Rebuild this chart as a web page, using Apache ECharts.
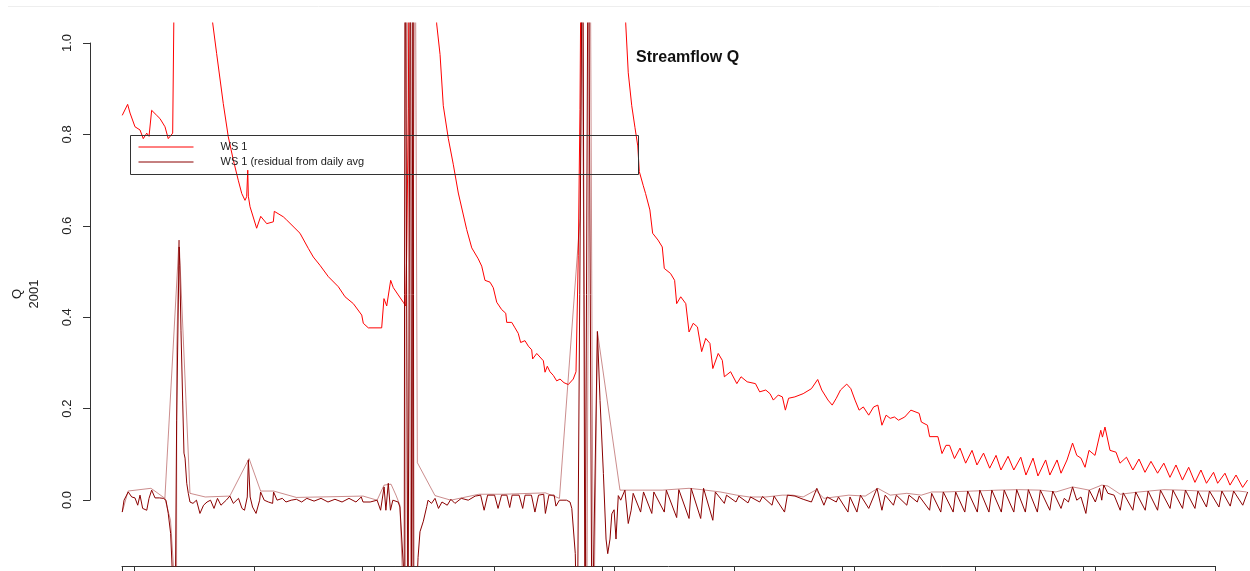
<!DOCTYPE html>
<html>
<head>
<meta charset="utf-8">
<script src="https://cdn.jsdelivr.net/npm/echarts@6/dist/echarts.min.js"></script>
<style>
html,body{margin:0;padding:0;background:#fff;}
#chart{width:1250px;height:571px;}
</style>
</head>
<body>
<div id="chart"></div>
<script>
// x values are days since the first plotted sample; y values are Q
const chartTitle = 'Streamflow Q';
const yAxisName = 'Q\n2001';
const seriesNames = ['WS 1', 'WS 1 (residual from daily avg'];
const yTicks = [0, 0.2, 0.4, 0.6, 0.8, 1.0];
const xTickDays = [0, 1, 11, 20, 21, 31, 40, 41, 51, 60, 61, 71, 80, 81, 91];

// WS 1 streamflow
const ws1 = [
[0.02,0.842],[0.47,0.866],[0.67,0.847],[1.08,0.817],[1.50,0.810],[1.77,0.791],[2.06,0.803],[2.25,0.796],
[2.47,0.853],[2.89,0.842],[3.16,0.835],[3.58,0.817],[3.85,0.791],[4.22,0.803],[4.35,0.803],[4.43,1.35],
[5.25,1.8],[6.49,1.5],[7.16,1.2],[7.55,1.044],[7.88,0.977],[8.43,0.868],[8.85,0.795],[9.27,0.744],
[9.68,0.700],[9.97,0.671],[10.24,0.656],[10.38,0.664],[10.47,0.722],[10.52,0.665],[10.66,0.642],
[11.21,0.595],[11.55,0.621],[12.05,0.605],[12.60,0.609],[12.68,0.632],[13.43,0.620],[13.71,0.613],
[14.40,0.595],[14.82,0.584],[15.51,0.551],[15.93,0.532],[16.48,0.514],[17.18,0.489],[18.01,0.467],
[18.57,0.445],[19.26,0.430],[19.96,0.405],[20.09,0.387],[20.51,0.377],[21.62,0.377],[21.81,0.441],
[22.04,0.425],[22.37,0.481],[22.59,0.465],[23.00,0.449],[23.42,0.433],[23.62,0.425],[23.70,0.536],
[23.84,0.856],[23.94,1.4],[24.81,1.8],[25.64,1.4],[25.89,1.25],[26.20,1.042],[26.48,0.975],[26.75,0.863],
[27.17,0.791],[27.58,0.735],[28.00,0.672],[28.42,0.624],[28.70,0.592],[29.12,0.552],[29.66,0.528],
[29.95,0.512],[30.22,0.481],[30.64,0.477],[30.91,0.465],[31.20,0.433],[31.61,0.417],[31.95,0.409],
[32.03,0.389],[32.45,0.389],[32.72,0.377],[32.99,0.365],[33.19,0.345],[33.55,0.349],[33.83,0.337],
[34.11,0.329],[34.19,0.309],[34.53,0.321],[35.08,0.305],[35.22,0.280],[35.41,0.293],[35.63,0.281],
[35.91,0.273],[36.19,0.261],[36.47,0.265],[36.80,0.257],[37.16,0.253],[37.57,0.265],[37.80,0.281],
[37.99,0.536],[38.13,0.855],[38.26,1.35],[39.80,2.0],[41.30,1.45],[41.94,1.042],[42.15,0.935],
[42.44,0.863],[42.71,0.815],[42.94,0.775],[43.07,0.719],[43.40,0.688],[43.59,0.671],[43.95,0.635],
[44.18,0.584],[44.63,0.569],[44.98,0.554],[45.15,0.507],[45.67,0.496],[46.01,0.481],[46.18,0.430],
[46.52,0.445],[46.94,0.430],[47.21,0.368],[47.56,0.387],[47.91,0.379],[48.26,0.325],[48.60,0.354],
[48.95,0.343],[49.19,0.288],[49.64,0.321],[49.98,0.306],[50.15,0.270],[50.67,0.281],[51.19,0.255],
[51.54,0.270],[52.05,0.259],[52.74,0.255],[53.09,0.237],[53.60,0.241],[53.95,0.233],[54.23,0.219],
[54.64,0.230],[54.98,0.226],[55.23,0.197],[55.50,0.223],[56.02,0.226],[56.71,0.233],[57.40,0.244],
[57.92,0.264],[58.26,0.241],[58.78,0.219],[59.13,0.208],[59.47,0.223],[59.82,0.241],[60.34,0.254],
[60.68,0.244],[61.03,0.219],[61.37,0.197],[61.72,0.204],[62.17,0.186],[62.58,0.204],[62.93,0.208],
[63.27,0.164],[63.62,0.186],[63.96,0.179],[64.31,0.182],[64.65,0.175],[65.17,0.182],[65.68,0.197],
[66.37,0.190],[66.55,0.171],[67.06,0.164],[67.24,0.139],[67.93,0.139],[68.27,0.102],[68.60,0.120],
[68.90,0.120],[69.31,0.091],[69.77,0.114],[70.24,0.081],[70.77,0.109],[71.18,0.077],[71.73,0.103],
[72.24,0.070],[72.77,0.098],[73.18,0.066],[73.77,0.096],[74.25,0.066],[74.83,0.094],[75.26,0.055],
[75.85,0.092],[76.26,0.053],[76.90,0.088],[77.25,0.055],[77.85,0.088],[78.18,0.059],[78.68,0.088],
[79.14,0.125],[79.49,0.098],[79.84,0.092],[80.18,0.072],[80.51,0.109],[81.01,0.098],[81.49,0.153],
[81.63,0.138],[81.84,0.160],[82.26,0.109],[82.76,0.105],[83.09,0.081],[83.63,0.094],[84.16,0.066],
[84.67,0.090],[85.17,0.061],[85.67,0.085],[86.22,0.059],[86.74,0.081],[87.25,0.050],[87.75,0.077],
[88.29,0.044],[88.81,0.072],[89.33,0.039],[89.83,0.066],[90.29,0.037],[90.88,0.061],[91.22,0.037],
[91.83,0.059],[92.25,0.033],[92.75,0.055],[93.30,0.028],[93.71,0.044]
];

// WS 1 residual from daily average (detailed)
const residual = [
[0.02,-0.026],[0.17,0.000],[0.52,0.018],[0.81,0.007],[1.08,0.005],[1.31,-0.011],[1.50,0.011],[1.72,-0.018],
[2.06,-0.022],[2.25,0.004],[2.47,0.022],[2.75,0.005],[3.11,0.005],[3.44,0.004],[3.66,0.000],[3.85,-0.029],
[4.05,-0.073],[4.22,-0.175],[4.45,-0.186],[4.55,0.175],[4.69,0.438],[4.76,0.554],[4.81,0.514],[4.91,0.372],
[5.05,0.219],[5.16,0.103],[5.25,0.092],[5.39,0.037],[5.52,0.015],[5.66,-0.004],[5.91,-0.007],[6.20,0.000],
[6.49,-0.029],[6.79,-0.011],[7.08,-0.004],[7.37,0.000],[7.66,-0.018],[7.95,0.004],[8.24,-0.011],[8.68,0.000],
[8.98,0.009],[9.27,-0.007],[9.70,0.004],[9.99,-0.018],[10.20,-0.022],[10.43,0.007],[10.52,0.088],[10.67,0.007],
[10.87,-0.015],[11.16,-0.029],[11.46,0.000],[11.54,0.018],[11.84,0.000],[12.19,-0.004],[12.54,-0.007],
[12.62,0.018],[12.91,0.000],[13.35,0.004],[13.65,-0.004],[14.09,0.000],[14.52,0.002],[14.96,-0.004],
[15.39,0.004],[15.99,-0.002],[16.57,0.004],[17.15,-0.004],[17.73,0.002],[18.32,-0.004],[18.90,0.004],
[19.48,-0.004],[19.92,0.007],[20.07,-0.004],[20.66,-0.004],[21.24,0.000],[21.53,-0.022],[21.82,0.029],
[21.97,-0.022],[22.17,0.037],[22.35,-0.022],[22.55,0.000],[22.99,-0.004],[23.14,-0.015],[23.43,-0.146],
[23.49,-0.35],[23.57,1.4],[23.81,-0.35],[24.02,1.4],[24.12,-0.35],[24.23,1.4],[24.30,-0.35],[24.65,-0.125],
[24.81,-0.069],[25.09,-0.046],[25.37,-0.014],[25.48,0.000],[25.77,-0.007],[26.06,0.004],[26.35,-0.018],
[26.64,-0.004],[27.08,-0.011],[27.38,0.002],[27.72,-0.007],[28.25,0.004],[28.83,0.000],[29.41,0.009],
[29.86,0.011],[30.15,-0.022],[30.44,0.011],[31.02,0.011],[31.31,-0.018],[31.60,0.011],[32.04,0.011],
[32.28,-0.016],[32.48,0.011],[33.06,0.011],[33.36,-0.018],[33.56,0.011],[34.09,0.011],[34.38,-0.026],
[34.68,0.011],[35.11,0.013],[35.25,-0.029],[35.54,0.011],[35.98,0.011],[36.13,-0.013],[36.42,0.000],
[37.01,0.000],[37.30,-0.004],[37.45,-0.018],[37.74,-0.117],[37.90,-0.35],[38.36,1.4],[38.55,-0.35],
[38.82,1.4],[39.13,-0.35],[39.58,0.369],[39.80,0.218],[40.08,0.058],[40.30,-0.085],[40.44,-0.117],
[40.63,-0.085],[40.78,-0.030],[40.97,-0.021],[41.13,-0.085],[41.32,0.010],[41.52,0.000],[41.87,0.022],
[42.15,-0.051],[42.39,-0.022],[42.56,0.015],[43.18,-0.026],[43.42,0.018],[44.11,-0.029],[44.28,0.018],
[45.15,-0.026],[45.32,0.022],[46.18,-0.038],[46.36,0.023],[47.21,-0.040],[47.39,0.026],[48.18,-0.040],
[48.42,0.026],[49.19,-0.044],[49.40,0.018],[50.15,-0.007],[50.33,0.011],[51.12,-0.004],[51.35,0.009],
[52.12,-0.006],[52.33,0.007],[53.09,-0.004],[53.33,0.008],[54.12,-0.011],[54.29,0.009],[55.16,-0.026],
[55.40,0.011],[56.03,0.009],[56.71,0.002],[57.40,-0.004],[57.85,0.026],[58.44,-0.011],[58.71,0.007],
[59.47,-0.004],[59.65,0.007],[60.44,-0.026],[60.61,0.007],[61.19,-0.026],[61.48,0.011],[62.17,-0.018],
[62.86,0.026],[63.27,-0.022],[63.54,0.011],[64.23,-0.011],[64.47,0.011],[65.34,-0.011],[65.52,0.011],
[66.21,-0.004],[66.37,0.009],[67.24,-0.022],[67.41,0.015],[68.17,-0.026],[68.38,0.018],[69.20,-0.026],
[69.41,0.018],[70.17,-0.026],[70.41,0.020],[71.21,-0.026],[71.42,0.022],[72.18,-0.026],[72.42,0.022],
[73.21,-0.026],[73.45,0.022],[74.25,-0.026],[74.49,0.023],[75.21,-0.026],[75.46,0.023],[76.21,-0.026],
[76.46,0.022],[77.25,-0.022],[77.49,0.020],[78.18,-0.018],[78.45,0.004],[78.80,-0.004],[79.14,0.029],
[79.49,0.000],[79.84,0.007],[80.25,-0.029],[80.53,0.022],[81.04,-0.004],[81.39,0.026],[81.57,0.000],
[81.74,0.033],[82.08,0.015],[82.60,0.011],[83.11,-0.022],[83.36,0.016],[84.16,-0.022],[84.40,0.018],
[85.19,-0.022],[85.43,0.020],[86.22,-0.022],[86.46,0.022],[87.26,-0.018],[87.50,0.022],[88.30,-0.018],
[88.54,0.022],[89.33,-0.018],[89.58,0.020],[90.29,-0.015],[90.54,0.020],[91.33,-0.015],[91.57,0.020],
[92.27,-0.013],[92.55,0.020],[93.31,-0.011],[93.72,0.018]
];

// residual at coarse (daily) resolution, drawn lighter
const residualCoarse = [
[0.02,-0.026],[0.51,0.020],[2.41,0.026],[2.84,0.018],[3.57,0.004],[4.04,-0.044],[4.54,-0.25],[4.56,0.33],
[4.75,0.569],[5.66,0.015],[6.93,0.007],[8.98,0.009],[10.58,0.091],[11.54,0.020],[12.62,0.020],[14.52,0.006],
[20.07,0.009],[21.24,0.000],[21.82,0.033],[22.40,0.035],[22.81,0.011],[23.14,-0.011],[23.60,-0.35],
[23.72,1.4],[24.08,-0.35],[24.40,1.4],[24.59,0.082],[26.06,0.010],[27.38,0.000],[29.71,0.013],[31.75,0.013],
[35.25,0.016],[36.42,0.004],[38.13,0.616],[38.27,1.042],[38.30,1.1],[38.69,-0.35],[38.96,1.4],[39.25,-0.35],
[39.58,0.369],[41.46,0.022],[41.87,0.022],[44.98,0.022],[47.21,0.026],[48.26,0.023],[49.81,0.018],
[51.19,0.011],[52.23,0.007],[53.60,0.007],[54.98,0.011],[55.85,0.011],[56.71,0.007],[57.75,0.022],
[58.44,0.004],[60.51,0.011],[61.88,0.009],[62.93,0.026],[63.96,0.011],[65.34,0.015],[66.55,0.011],
[67.41,0.018],[68.45,0.018],[70.86,0.020],[72.93,0.022],[74.66,0.023],[76.39,0.022],[77.76,0.018],
[79.14,0.029],[80.53,0.022],[81.57,0.033],[82.08,0.031],[83.11,0.013],[84.67,0.018],[86.74,0.023],
[88.12,0.022],[89.84,0.020],[91.57,0.020],[92.95,0.020],[93.64,0.018],
[93.70,'-'],[3.57,0.004],[4.75,0.569]
];

const FONT = '"Liberation Sans", Arial, sans-serif';
const chart = echarts.init(document.getElementById('chart'), null, {renderer: 'canvas'});

const hidden = {show: false};
chart.setOption({
  animation: false,
  backgroundColor: '#ffffff',
  textStyle: {fontFamily: FONT},
  title: {
    text: chartTitle, left: 636, top: 50, padding: 0,
    textStyle: {fontFamily: FONT, fontSize: 16, fontWeight: 'bold', color: '#111'}
  },
  legend: {
    data: seriesNames, orient: 'vertical', left: 138, top: 140, padding: 0,
    itemWidth: 55, itemHeight: 14, itemGap: 1, selectedMode: false,
    itemStyle: {opacity: 0, borderWidth: 0, color: 'rgba(0,0,0,0)'},
    lineStyle: {width: 1},
    textStyle: {fontFamily: FONT, fontSize: 11, color: '#222', padding: [0, 0, 0, 22], lineHeight: 14}
  },
  grid: [
    {left: 90, right: 0, top: 23, height: 543},
    {left: 122, width: 1093, top: 23, height: 543},
    {left: 90, width: 10, top: 43, height: 457}
  ],
  xAxis: [
    {type: 'value', gridIndex: 0, min: -2.664, max: 93.914, show: false},
    {type: 'value', gridIndex: 1, min: 0, max: 91, position: 'bottom',
     axisLine: {show: true, onZero: false, lineStyle: {color: '#333', width: 1}},
     axisTick: {show: true, length: 7, inside: false, customValues: xTickDays, lineStyle: {color: '#333'}},
     axisLabel: {show: false, customValues: xTickDays},
     splitLine: hidden},
    {type: 'value', gridIndex: 2, min: 0, max: 1, show: false}
  ],
  yAxis: [
    {type: 'value', gridIndex: 0, min: -0.144, max: 1.044, show: false},
    {type: 'value', gridIndex: 1, min: -0.144, max: 1.044, show: false},
    {type: 'value', gridIndex: 2, min: 0, max: 1, interval: 0.2,
     axisLine: {show: true, onZero: false, lineStyle: {color: '#333', width: 1}},
     axisTick: {show: true, length: 7, inside: false, lineStyle: {color: '#333'}},
     axisLabel: {show: true, rotate: 90, margin: 16, fontFamily: FONT, fontSize: 13, color: '#222',
       customValues: yTicks, formatter: v => v.toFixed(1)},
     splitLine: hidden}
  ],
  graphic: [
    {type: 'line', shape: {x1: 8, y1: 6.5, x2: 1250, y2: 6.5}, style: {stroke: '#eeeeee', lineWidth: 1}, silent: true},
    {type: 'rect', shape: {x: 130.5, y: 135.5, width: 508, height: 39},
     style: {fill: 'none', stroke: '#333', lineWidth: 1}, z: 100, silent: true},
    {type: 'text', x: 26, y: 294, rotation: Math.PI / 2,
     style: {text: yAxisName, font: '13px ' + FONT, fill: '#222', align: 'center', verticalAlign: 'middle', lineHeight: 17},
     silent: true}
  ],
  series: [
    {name: seriesNames[0], type: 'line', xAxisIndex: 0, yAxisIndex: 0, data: ws1, symbol: 'none',
     clip: true, lineStyle: {color: '#ff0000', width: 1}, itemStyle: {color: '#ff0000'}, z: 2},
    {name: 'coarse', type: 'line', xAxisIndex: 0, yAxisIndex: 0, data: residualCoarse, symbol: 'none',
     clip: true, connectNulls: false, lineStyle: {color: 'rgba(139,0,0,0.45)', width: 1}, itemStyle: {color: 'rgba(139,0,0,0.45)'}, z: 3},
    {name: seriesNames[1], type: 'line', xAxisIndex: 0, yAxisIndex: 0, data: residual, symbol: 'none',
     clip: true, lineStyle: {color: '#8b0000', width: 1}, itemStyle: {color: '#8b0000'}, z: 4}
  ]
});
</script>
</body>
</html>
